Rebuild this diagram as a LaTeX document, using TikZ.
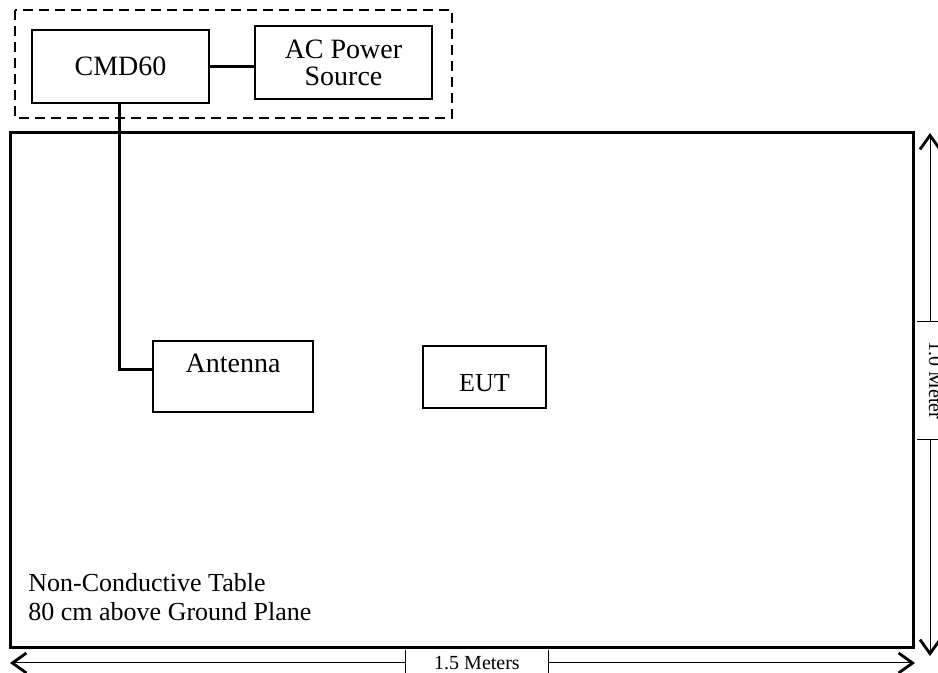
\documentclass[tikz,border=0pt]{standalone}
\usepackage{fontspec}
\setmainfont{Liberation Serif}
\usetikzlibrary{arrows.meta}
\begin{document}
\begin{tikzpicture}[
      x=0.5pt, y=-0.5pt,
      every node/.style={align=center, inner sep=2pt},
      caja/.style={draw, line width=1pt, font=\fontsize{14}{13.5}\selectfont},
      conector/.style={line width=1.5pt},
      cota/.style={line width=0.5pt, -{Straight Barb[length=7pt, width=10pt, line width=1.4pt]}},
      rotulo/.style={inner sep=0pt, font=\fontsize{10}{12}\selectfont}
    ]
    \useasboundingbox (0,0) rectangle (938,673);
    % Mesa no conductora y grupo de equipos de medida
    \draw[line width=1.5pt] (10,133) rectangle (913,648);
    \draw[dashed, line width=1pt, dash pattern=on 5pt off 3pt] (15,10) rectangle (452,118);
    \node[anchor=west, align=left, font=\fontsize{13}{14.5}\selectfont] (mesa) at (24,597)
      {Non-Conductive Table\\80 cm above Ground Plane};
    % Equipos
    \node[caja, minimum width=88.5pt, minimum height=36.5pt] (cmd) at (120.5,66.5) {CMD60};
    \node[caja, minimum width=88.5pt, minimum height=36.5pt] (ac)  at (343.5,62.5) {AC Power\\Source};
    \node[caja, minimum width=80pt, minimum height=35.5pt, text depth=13pt] (ant) at (233,376.5) {Antenna};
    \node[caja, minimum width=61.5pt, minimum height=31pt, text height=14.6pt,
          font=\fontsize{13}{14}\selectfont] (eut) at (484.5,377) {EUT};
    % Cables
    \draw[conector] (cmd.east |- 0,67) -- (ac.west |- 0,67);
    \draw[conector] (cmd.south -| 119,0) |- ([yshift=3.25pt]ant.west);
    % Cotas
    \node[rotulo, minimum width=71pt, minimum height=13pt] (hcota) at (477,663) {1.5 Meters};
    \node[rotulo, rotate=-90, minimum width=59pt, text height=7pt, text depth=6pt] (vcota) at (930,380.5) {1.0 Meter};
    \coordinate (hizq) at (10,663);
    \coordinate (hder) at (915,663);
    \coordinate (varr) at (930,133);
    \coordinate (vaba) at (930,656);
    \draw[cota] (hcota.west) -- (hizq);
    \draw[cota] (hcota.east) -- (hder);
    \draw[cota] (vcota.west) -- (varr);
    \draw[cota] (vcota.east) -- (vaba);
    \draw[line width=0.5pt] (hcota.north west) -- (hcota.south west);
    \draw[line width=0.5pt] (hcota.north east) -- (hcota.south east);
    \draw[line width=0.5pt] (vcota.north west) -- (vcota.south west);
    \draw[line width=0.5pt] (vcota.north east) -- (vcota.south east);
  \end{tikzpicture}
\end{document}
